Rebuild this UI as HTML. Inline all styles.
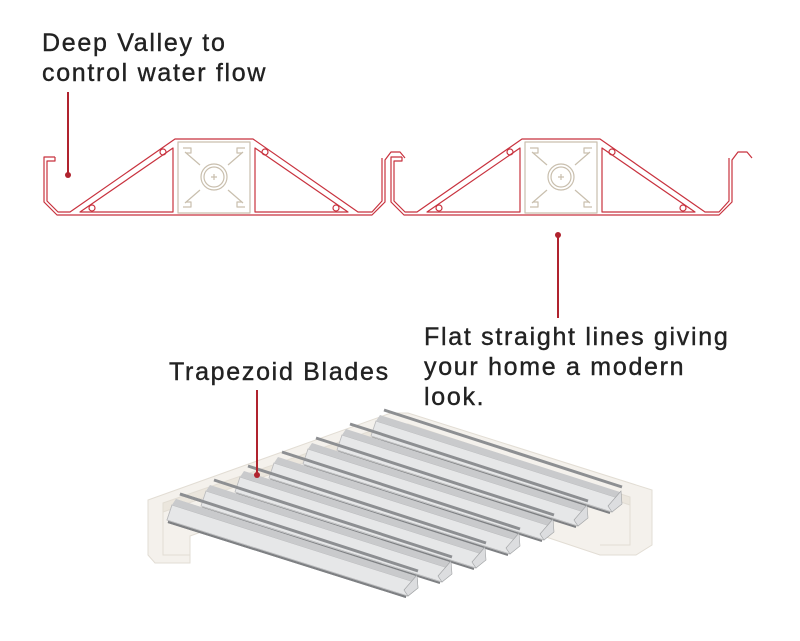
<!DOCTYPE html>
<html><head><meta charset="utf-8"><style>
html,body{margin:0;padding:0;background:#fff;}
body{width:800px;height:641px;position:relative;overflow:hidden;font-family:"Liberation Sans",sans-serif;}
.t{position:absolute;font-size:25px;color:#222;line-height:30px;letter-spacing:1.7px;-webkit-text-stroke:0.4px #222;}
</style></head><body>
<div class="t" style="left:42px;top:28px;">Deep Valley to<br>control water flow</div>
<div class="t" style="left:424px;top:322px;">Flat straight lines giving<br>your home a modern<br>look.</div>
<div class="t" style="left:169px;top:357px;">Trapezoid Blades</div>
<svg width="800" height="641" style="position:absolute;left:0;top:0">
<defs>
<g id="prof" fill="none" stroke-linejoin="round">
  <g stroke="#c8323e" stroke-width="1.2">
    <path d="M55,157 H44 V202 L57,215 H372 L385,202 V160 L391,152 H400 L405,158"/>
    <path d="M55,157 V161 H47 V201 L58,212 H70 L175,139 H253 L358,212 H372 L382,201 V158"/>
    <path d="M80,212 L173,148 V212 Z"/>
    <path d="M348,212 L255,148 V212 Z"/>
    <circle cx="163" cy="152" r="3"/><circle cx="265" cy="152" r="3"/>
    <circle cx="92" cy="208" r="3"/><circle cx="336" cy="208" r="3"/>
  </g>
  <g stroke="#c9bfae" stroke-width="1.2">
    <rect x="178" y="142" width="72" height="71"/>
    <circle cx="214" cy="177" r="13"/><circle cx="214" cy="177" r="10"/>
    <path d="M211,177h6M214,174v6"/>
    <path d="M185,152 L200,165 M243,152 L228,165 M185,203 L200,190 M243,203 L228,190"/>
    <path d="M183,148h8v5h-5 M245,148h-8v5h5 M183,207h8v-5h-5 M245,207h-8v-5h5"/>
  </g>
</g>
</defs>
<use href="#prof"/>
<use href="#prof" transform="translate(347,0)"/>
<g stroke="#b0232e" stroke-width="2" fill="#b0232e">
  <line x1="68" y1="92" x2="68" y2="175"/><circle cx="68" cy="175" r="3" stroke="none"/>
  <line x1="558" y1="235" x2="558" y2="318"/><circle cx="558" cy="235" r="3" stroke="none"/>
</g>
<g stroke="#e2ddd4" stroke-width="1" fill="#f4f1ec">
  <polygon points="148,500 391,413 408,413 652,490 652,545 636,555 600,555 360,475 190,536 190,563 155,563 148,555"/>
  <polygon points="163,503 391,424 408,424 630,497 630,505 408,432 391,432 163,512" fill="#ebe6dd"/>
  <polyline points="163,503 163,555 190,555" fill="none"/>
  <polyline points="630,497 630,545 600,545" fill="none"/>
</g>
<g>
  <g id="bl">
    <polygon points="172,505 414,582 408,596 167,520" fill="#e6e7e8" stroke="#b8b9bb" stroke-width="0.8"/>
    <polygon points="176,499 416,576 414,582 172,505" fill="#c9cacc"/>
    <line x1="180" y1="494" x2="418" y2="571" stroke="#8d8f92" stroke-width="3"/>
    <line x1="168" y1="522" x2="406" y2="597" stroke="#7e8083" stroke-width="2"/>
    <polygon points="404,590 417,575 418,588 408,596" fill="#dcdddf" stroke="#a0a2a4" stroke-width="0.6"/>
  </g>
</g>
<use href="#bl" transform="translate(204,-84)"/>
<use href="#bl" transform="translate(170,-70)"/>
<use href="#bl" transform="translate(136,-56)"/>
<use href="#bl" transform="translate(102,-42)"/>
<use href="#bl" transform="translate(68,-28)"/>
<use href="#bl" transform="translate(34,-14)"/>
<use href="#bl"/>
<g stroke="#b0232e" stroke-width="2" fill="#b0232e">
  <line x1="257" y1="390" x2="257" y2="475"/><circle cx="257" cy="475" r="3" stroke="none"/>
</g>
</svg>
</body></html>
